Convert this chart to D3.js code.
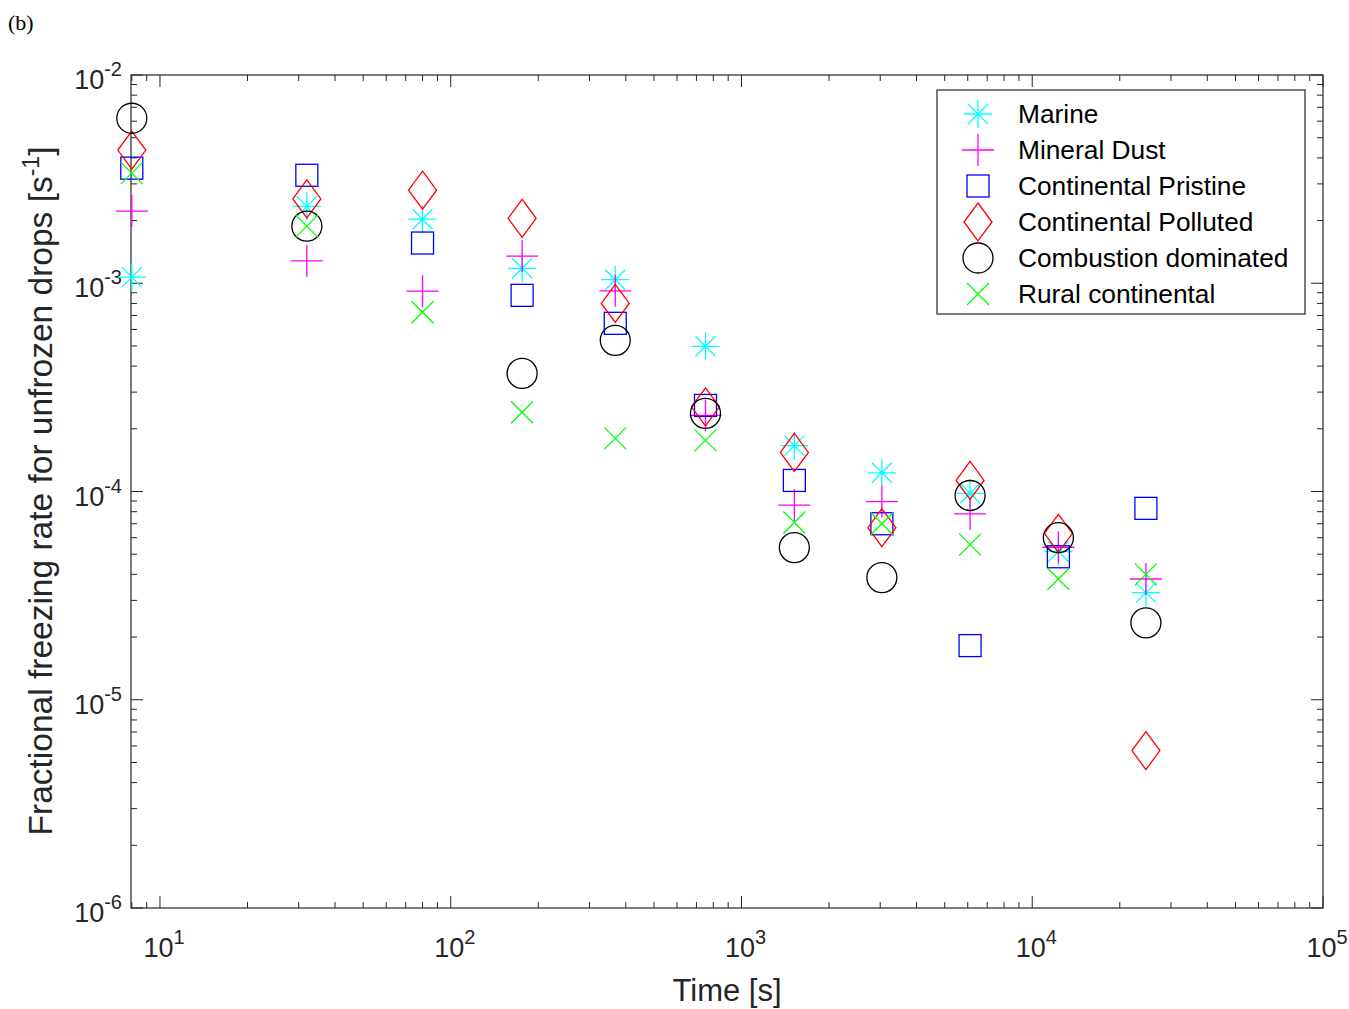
<!DOCTYPE html>
<html lang="en">
<head>
<meta charset="UTF-8">
<title>Fractional freezing rate</title>
<script src="https://d3js.org/d3.v7.min.js"></script>
<style>
  body { margin: 0; background: #fff; }
  text { font-family: "Liberation Sans", Arial, sans-serif; }
</style>
</head>
<body>
<svg width="1349" height="1009"></svg>
<script>
// time points [s]
const times = [8, 32, 80, 176, 368, 752, 1520, 3040, 6112, 12300, 24600];

const marine      = [1.07e-3, 2.34e-3, 2.03e-3, 1.18e-3, 1.04e-3, 4.98e-4, 1.66e-4, 1.23e-4, 9.8e-5, 5.15e-5, 3.27e-5];
const mineralDust = [2.22e-3, 1.28e-3, 9.16e-4, 1.35e-3, 9.2e-4, 2.32e-4, 8.6e-5, 8.95e-5, 7.8e-5, 5.4e-5, 3.8e-5];
const contPristine = [3.57e-3, 3.3e-3, 1.56e-3, 8.75e-4, 6.42e-4, 2.59e-4, 1.13e-4, 7.0e-5, 1.82e-5, 4.86e-5, 8.3e-5];
const contPolluted = [4.36e-3, 2.54e-3, 2.8e-3, 2.05e-3, 8.0e-4, 2.55e-4, 1.54e-4, 6.7e-5, 1.13e-4, 6.3e-5, 5.7e-6];
const combustion  = [6.2e-3, 1.88e-3, null, 3.69e-4, 5.32e-4, 2.37e-4, 5.38e-5, 3.86e-5, 9.57e-5, 6.0e-5, 2.34e-5];
const rural       = [3.38e-3, 1.88e-3, 7.26e-4, 2.4e-4, 1.8e-4, 1.76e-4, 7.1e-5, 7.0e-5, 5.56e-5, 3.8e-5, 4.0e-5];

const seriesNames = ["Marine", "Mineral Dust", "Continental Pristine", "Continental Polluted", "Combustion dominated", "Rural continental"];
const seriesData = [marine, mineralDust, contPristine, contPolluted, combustion, rural];
const seriesColors = ["#00ffff", "#ff00ff", "#0000ff", "#ff0000", "#000000", "#00ff00"];
const seriesShapes = ["asterisk", "plus", "square", "diamond", "circle", "cross"];

const xTickExps = [1, 2, 3, 4, 5];
const yTickExps = [-6, -5, -4, -3, -2];

const svg = d3.select("svg");
const L = 131, R = 1323, T = 75, B = 908;

const x = d3.scaleLog().domain([7.95, 1e5]).range([L, R]);
const y = d3.scaleLog().domain([1e-6, 1e-2]).range([B, T]);

// minor/major ticks, inward on all four sides
const g = svg.append("g").attr("stroke", "#262626").attr("stroke-width", 1);
const xMinor = [], yMinor = [];
for (let e = 0; e < 5; e++) for (let k = 2; k <= 9; k++) {
  const v = k * Math.pow(10, e);
  if (v > 7.95 && v < 1e5) xMinor.push(v);
}
for (let e = -6; e < -2; e++) for (let k = 2; k <= 9; k++) yMinor.push(k * Math.pow(10, e));

xMinor.forEach(v => {
  g.append("line").attr("x1", x(v)).attr("x2", x(v)).attr("y1", B).attr("y2", B - 6);
  g.append("line").attr("x1", x(v)).attr("x2", x(v)).attr("y1", T).attr("y2", T + 6);
});
xTickExps.forEach(e => {
  const v = Math.pow(10, e);
  g.append("line").attr("x1", x(v)).attr("x2", x(v)).attr("y1", B).attr("y2", B - 12);
  g.append("line").attr("x1", x(v)).attr("x2", x(v)).attr("y1", T).attr("y2", T + 12);
});
yMinor.forEach(v => {
  g.append("line").attr("y1", y(v)).attr("y2", y(v)).attr("x1", L).attr("x2", L + 6);
  g.append("line").attr("y1", y(v)).attr("y2", y(v)).attr("x1", R).attr("x2", R - 6);
});
yTickExps.forEach(e => {
  const v = Math.pow(10, e);
  g.append("line").attr("y1", y(v)).attr("y2", y(v)).attr("x1", L).attr("x2", L + 12);
  g.append("line").attr("y1", y(v)).attr("y2", y(v)).attr("x1", R).attr("x2", R - 12);
});
svg.append("rect").attr("x", L).attr("y", T).attr("width", R - L).attr("height", B - T)
  .attr("fill", "none").attr("stroke", "#262626").attr("stroke-width", 1.2);

// tick labels
xTickExps.forEach(e => {
  const t = svg.append("text").attr("x", x(Math.pow(10, e)) + 4).attr("y", 957)
    .attr("text-anchor", "middle").attr("font-size", 27).attr("fill", "#262626");
  t.append("tspan").text("10");
  t.append("tspan").attr("dy", -13).attr("font-size", 20).text(e);
});
yTickExps.forEach(e => {
  const t = svg.append("text").attr("x", 122).attr("y", y(Math.pow(10, e)) + 14)
    .attr("text-anchor", "end").attr("font-size", 27).attr("fill", "#262626");
  t.append("tspan").text("10");
  t.append("tspan").attr("dy", -13).attr("font-size", 20).text(e);
});

// axis labels
svg.append("text").attr("x", 727).attr("y", 1001).attr("text-anchor", "middle")
  .attr("font-size", 31).attr("fill", "#262626").text("Time [s]");
const yl = svg.append("text").attr("transform", "translate(52,491) rotate(-90)")
  .attr("text-anchor", "middle").attr("font-size", 33.5).attr("fill", "#262626");
yl.append("tspan").text("Fractional freezing rate for unfrozen drops [s");
yl.append("tspan").attr("dy", -13).attr("font-size", 23).text("-1");
yl.append("tspan").attr("dy", 13).text("]");

svg.append("text").attr("x", 8).attr("y", 30)
  .style("font-family", "'Liberation Serif', 'Times New Roman', serif")
  .attr("font-size", 22).text("(b)");

function drawMarker(sel, shape, color, cx, cy) {
  const m = sel.append("g").attr("transform", `translate(${cx},${cy})`)
    .attr("fill", "none").attr("stroke", color).attr("stroke-width", 1.3);
  if (shape === "circle") m.append("circle").attr("r", 15);
  else if (shape === "square") m.append("rect").attr("x", -11).attr("y", -11).attr("width", 22).attr("height", 22);
  else if (shape === "diamond") m.append("path").attr("d", "M0,-19L14,0L0,19L-14,0Z");
  else if (shape === "plus") m.append("path").attr("d", "M-16,0H16M0,-16V16");
  else if (shape === "cross") m.append("path").attr("d", "M-11,-11L11,11M-11,11L11,-11");
  else if (shape === "asterisk") m.append("path").attr("d", "M-14,0H14M0,-14V14M-10,-10L10,10M-10,10L10,-10");
}

const pts = svg.append("g");
seriesData.forEach((arr, i) => {
  arr.forEach((v, j) => {
    if (v == null) return;
    drawMarker(pts, seriesShapes[i], seriesColors[i], x(times[j]), y(v));
  });
});

// legend
const lg = svg.append("g");
lg.append("rect").attr("x", 937).attr("y", 90).attr("width", 368).attr("height", 224)
  .attr("fill", "#fff").attr("stroke", "#262626").attr("stroke-width", 1.2);
seriesNames.forEach((n, i) => {
  const yy = 114 + i * 36;
  drawMarker(lg, seriesShapes[i], seriesColors[i], 978, yy);
  lg.append("text").attr("x", 1018).attr("y", yy + 9).attr("font-size", 26.3)
    .attr("fill", "#000").text(n);
});
</script>
</body>
</html>
